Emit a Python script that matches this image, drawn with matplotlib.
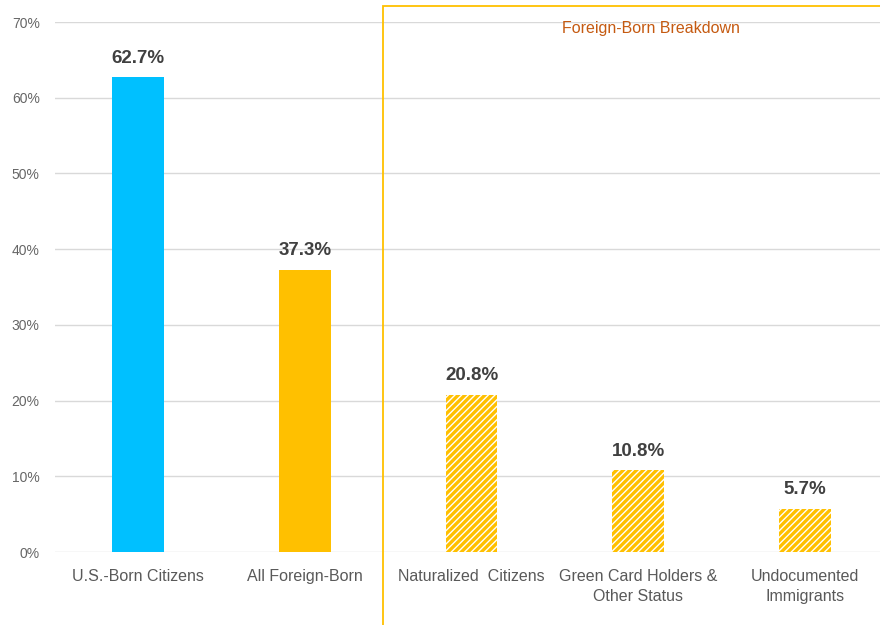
import matplotlib.pyplot as plt
from matplotlib.patches import Rectangle

plt.rcParams['font.family'] = ['Liberation Sans', 'DejaVu Sans']
plt.rcParams['hatch.linewidth'] = 2.4

categories = ["U.S.-Born Citizens", "All Foreign-Born", "Naturalized  Citizens",
              "Green Card Holders &\nOther Status", "Undocumented\nImmigrants"]
values = [62.7, 37.3, 20.8, 10.8, 5.7]
labels = ["62.7%", "37.3%", "20.8%", "10.8%", "5.7%"]

fig = plt.figure(figsize=(8.8, 6.25), dpi=100)
ax = fig.add_axes([55/880, (625-552)/625, 833/880, 530/625])

x = range(len(values))
colors = ['#00C0FF', '#FFC000']
for i, v in enumerate(values):
    if i < 2:
        ax.bar(i, v, width=0.31, color=colors[i], zorder=3)
    else:
        ax.bar(i, v, width=0.31, facecolor='white', edgecolor='#FFC000',
               hatch='/////', linewidth=0, zorder=3)
    ax.text(i, v + 1.4, labels[i], ha='center', va='bottom', fontsize=13.5,
            fontweight='bold', color='#404040')

ax.set_xlim(-0.5, 4.5)
ax.set_ylim(0, 70)
ax.set_yticks(range(0, 71, 10))
ax.set_yticklabels([f"{t}%" for t in range(0, 71, 10)], color='#666666', fontsize=10)
ax.set_xticks(list(x))
ax.set_xticklabels(categories, color='#595959', fontsize=11.5, linespacing=1.45)
ax.tick_params(length=0)
ax.tick_params(axis='y', pad=11)
ax.tick_params(axis='x', pad=12)
ax.grid(axis='y', color='#D9D9D9', linewidth=1, zorder=0)
for s in ax.spines.values():
    s.set_visible(False)

# Foreign-born breakdown box
fig.patches.append(Rectangle((383/880, -0.05), 0.6, 1 - 6/625 + 0.05,
                             transform=fig.transFigure, fill=False,
                             edgecolor='#FFC000', linewidth=1.3))
fig.text(651/880, 1 - 29/625, "Foreign-Born Breakdown", ha='center', va='center',
         fontsize=11.5, color='#C55A11')

fig.savefig("out.png", dpi=100)
